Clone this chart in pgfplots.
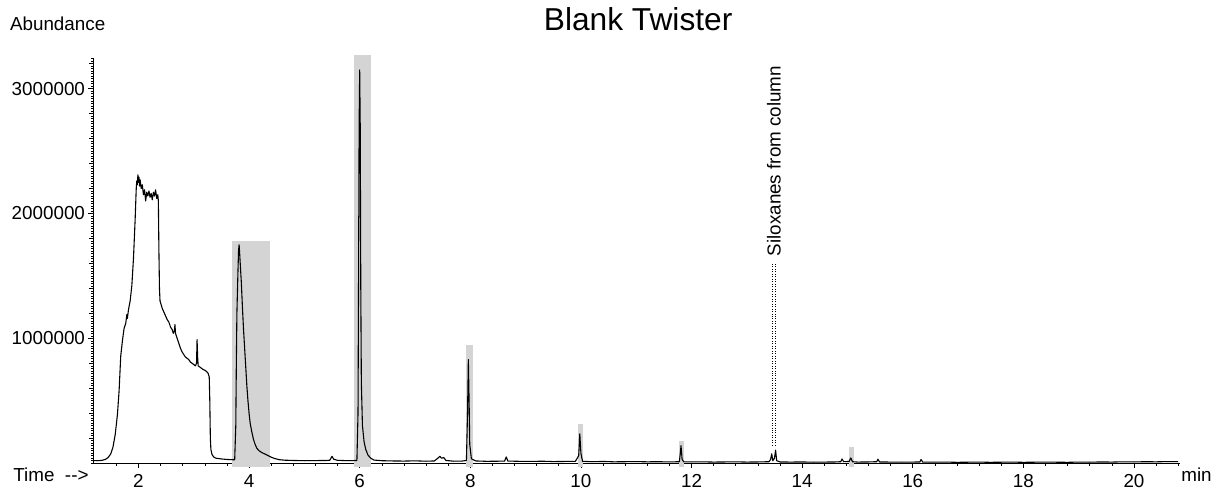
\documentclass[border=0pt]{standalone}
\usepackage{fontspec}
\setmainfont{Liberation Sans}
\usepackage{pgfplots}
\pgfplotsset{compat=1.18}

\definecolor{shade}{RGB}{212,212,212}

% total ion chromatogram, y in millions
\pgfplotstableread{
t y
1.19 0.021
1.25 0.020
1.30 0.021
1.35 0.024
1.40 0.030
1.45 0.045
1.50 0.075
1.54 0.130
1.58 0.230
1.62 0.390
1.65 0.580
1.68 0.860
1.71 0.980
1.74 1.080
1.77 1.120
1.79 1.190
1.80 1.160
1.82 1.230
1.85 1.300
1.88 1.420
1.91 1.640
1.94 1.950
1.96 2.200
1.97 2.260
1.98 2.230
1.99 2.310
2.00 2.250
2.01 2.290
2.02 2.220
2.03 2.270
2.05 2.200
2.07 2.230
2.09 2.150
2.11 2.190
2.13 2.100
2.15 2.170
2.17 2.140
2.19 2.180
2.21 2.130
2.23 2.160
2.25 2.110
2.27 2.170
2.29 2.140
2.31 2.190
2.33 2.120
2.35 2.150
2.36 2.100
2.37 1.700
2.38 1.400
2.39 1.300
2.41 1.270
2.43 1.240
2.46 1.210
2.49 1.180
2.52 1.150
2.55 1.130
2.58 1.090
2.61 1.070
2.63 1.040
2.65 1.060
2.66 1.110
2.67 1.040
2.70 1.000
2.73 0.960
2.76 0.920
2.79 0.890
2.82 0.870
2.85 0.850
2.88 0.840
2.91 0.830
2.94 0.810
2.97 0.800
3.00 0.790
3.03 0.780
3.05 0.800
3.06 0.990
3.07 0.850
3.08 0.780
3.11 0.770
3.14 0.760
3.17 0.750
3.20 0.745
3.23 0.735
3.26 0.720
3.28 0.690
3.29 0.500
3.30 0.200
3.31 0.110
3.33 0.070
3.36 0.050
3.40 0.040
3.50 0.034
3.60 0.030
3.70 0.028
3.74 0.028
3.76 0.300
3.77 0.800
3.78 1.200
3.80 1.550
3.81 1.700
3.82 1.750
3.83 1.680
3.84 1.600
3.86 1.450
3.88 1.250
3.90 1.070
3.92 0.920
3.94 0.770
3.96 0.620
3.98 0.500
4.00 0.400
4.02 0.320
4.05 0.250
4.08 0.190
4.11 0.150
4.14 0.120
4.18 0.100
4.23 0.085
4.28 0.075
4.34 0.062
4.40 0.048
4.46 0.038
4.55 0.028
4.65 0.024
4.80 0.022
5.00 0.020
5.20 0.021
5.40 0.022
5.46 0.024
5.50 0.055
5.53 0.032
5.60 0.023
5.80 0.020
5.95 0.022
5.97 0.400
5.98 1.500
5.99 2.700
6.00 3.150
6.01 2.700
6.02 1.400
6.03 0.650
6.05 0.300
6.08 0.170
6.11 0.110
6.15 0.065
6.20 0.040
6.26 0.025
6.40 0.020
6.60 0.018
6.80 0.017
7.00 0.019
7.20 0.016
7.35 0.018
7.40 0.035
7.45 0.055
7.48 0.040
7.52 0.045
7.56 0.022
7.70 0.016
7.85 0.017
7.93 0.022
7.95 0.400
7.965 0.830
7.98 0.450
7.99 0.150
8.02 0.035
8.10 0.018
8.30 0.015
8.50 0.016
8.62 0.017
8.65 0.050
8.68 0.017
8.90 0.015
9.10 0.014
9.30 0.016
9.50 0.013
9.70 0.014
9.90 0.015
9.96 0.060
9.98 0.235
10.00 0.080
10.03 0.015
10.20 0.012
10.40 0.014
10.60 0.011
10.80 0.012
11.00 0.013
11.20 0.011
11.40 0.012
11.60 0.010
11.78 0.012
11.80 0.090
11.81 0.140
11.83 0.030
11.86 0.011
12.00 0.010
12.20 0.011
12.40 0.009
12.60 0.010
12.80 0.011
13.00 0.009
13.20 0.010
13.40 0.012
13.43 0.030
13.45 0.075
13.47 0.020
13.50 0.040
13.52 0.105
13.54 0.020
13.60 0.010
13.80 0.009
14.00 0.010
14.20 0.008
14.40 0.009
14.60 0.010
14.70 0.012
14.72 0.034
14.75 0.012
14.85 0.014
14.88 0.042
14.91 0.012
15.00 0.009
15.20 0.010
15.35 0.012
15.37 0.032
15.40 0.010
15.60 0.009
15.80 0.008
16.00 0.009
16.13 0.010
16.15 0.030
16.18 0.009
16.40 0.008
16.60 0.009
16.80 0.007
17.00 0.008
17.20 0.009
17.40 0.007
17.60 0.008
17.80 0.009
18.00 0.007
18.20 0.008
18.40 0.009
18.60 0.008
18.80 0.007
19.00 0.009
19.20 0.008
19.40 0.010
19.60 0.009
19.80 0.011
20.00 0.010
20.20 0.012
20.40 0.011
20.60 0.013
20.80 0.012
}\tic

\begin{document}
\begin{tikzpicture}[x=1bp,y=1bp]
\path (-94,-24) rectangle (1121,466);
\begin{axis}[
  scale only axis, width=1093bp, height=408bp,
  xmin=1.186, xmax=20.83, ymin=0, ymax=3.248,
  axis x line*=bottom, axis y line*=left,
  clip=false, tick align=outside,
  xtick={2,4,...,20},
  minor xtick={1.6,2.0,...,20.8},
  ytick={1,2,3}, yticklabels={1000000,2000000,3000000},
  minor ytick={0,0.02,...,3.24},
  extra y ticks={0.2,0.4,...,3.2}, extra y tick labels={},
  extra y tick style={major tick length=4bp},
  major tick length=5bp, minor tick length=2.5bp,
  tick style={black, line width=0.6bp},
  axis line style={line width=0.9bp},
  ticklabel style={font=\fontsize{19}{22}\selectfont},
  xticklabel style={yshift=-3bp},
  /pgf/number format/assume math mode=true,
]
% highlighted peak windows
\addplot[fill=shade, draw=none] coordinates {(3.70,-0.032) (3.70,1.783) (4.385,1.783) (4.385,-0.032)} -- cycle;
\addplot[fill=shade, draw=none] coordinates {(5.906,-0.032) (5.906,3.27) (6.205,3.27) (6.205,-0.032)} -- cycle;
\addplot[fill=shade, draw=none] coordinates {(7.93,-0.032) (7.93,0.945) (8.045,0.945) (8.045,-0.032)} -- cycle;
\addplot[fill=shade, draw=none] coordinates {(9.94,-0.032) (9.94,0.313) (10.04,0.313) (10.04,-0.032)} -- cycle;
\addplot[fill=shade, draw=none] coordinates {(11.775,-0.032) (11.775,0.181) (11.855,0.181) (11.855,-0.032)} -- cycle;
\addplot[fill=shade, draw=none] coordinates {(14.84,-0.032) (14.84,0.133) (14.93,0.133) (14.93,-0.032)} -- cycle;
% chromatogram
\addplot[black, line width=1.1bp, line join=round] table[x=t, y=y] {\tic};
% siloxane markers
\addplot[black, dotted, line width=0.5bp] coordinates {(13.455,0.143) (13.455,1.60)};
\addplot[black, dotted, line width=0.5bp] coordinates {(13.52,0.143) (13.52,1.60)};
\node[rotate=90, anchor=west, font=\fontsize{19}{22}\selectfont] at (axis cs:13.49,1.63) {Siloxanes from column};
\end{axis}
\node[font=\fontsize{32}{36}\selectfont] at (548,447) {Blank Twister};
\node[font=\fontsize{19}{22}\selectfont] at (-36,442) {Abundance};
\node[anchor=west, font=\fontsize{19}{22}\selectfont] at (-84,-12) {Time\ \ -{}-{}>};
\node[anchor=west, font=\fontsize{19}{22}\selectfont] at (1091,-12) {min};
\end{tikzpicture}
\end{document}
